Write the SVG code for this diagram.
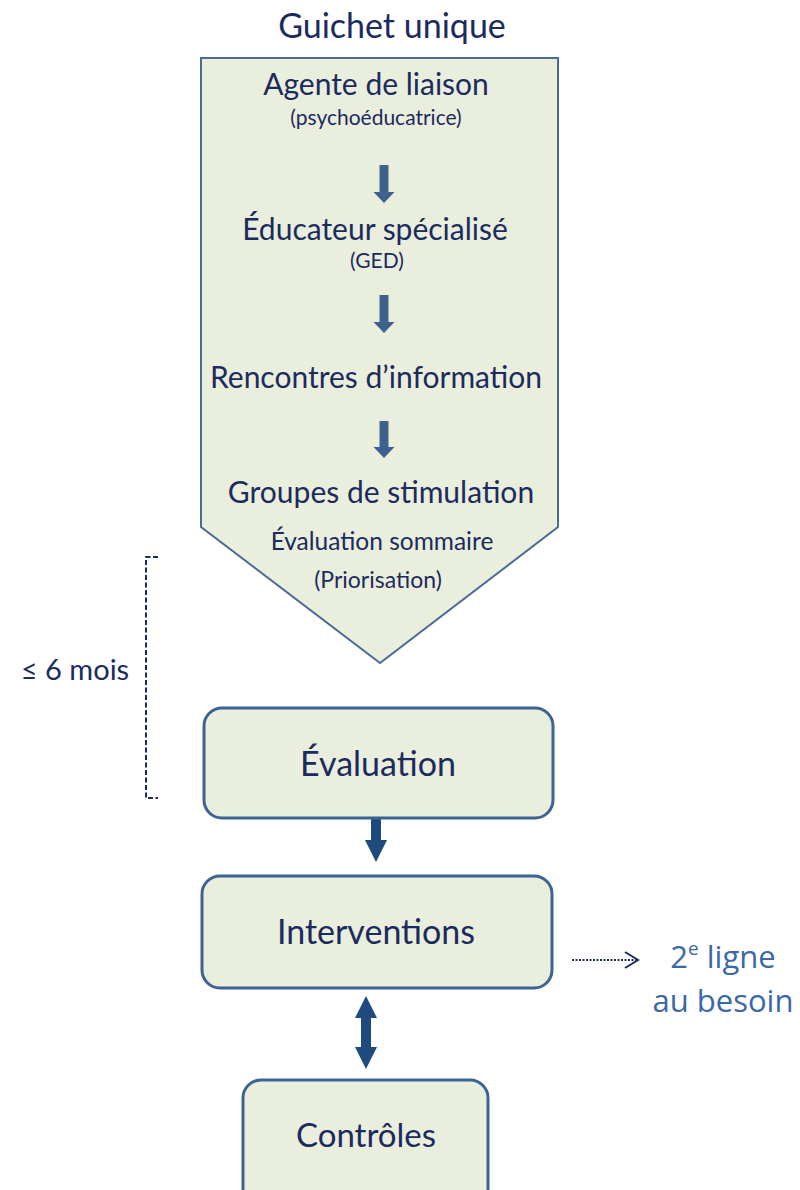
<svg xmlns="http://www.w3.org/2000/svg" width="800" height="1190" viewBox="0 0 800 1190">
<defs>
<style>
.t{font-family:Lato,"Open Sans","Liberation Sans",sans-serif;fill:#1c2b5e;text-anchor:middle}
.c{font-family:"Open Sans","Noto Sans","Liberation Sans",sans-serif;text-anchor:middle}
.box{fill:#eaeedd;stroke:#3d6393;stroke-width:3}
.arr{fill:#3f6190}
.arrd{fill:#1f4a7e}
</style>
</defs>
<rect width="800" height="1190" fill="#ffffff"/>
<g id="guichet">
<text class="t" x="392" y="38" font-size="34">Guichet unique</text>
<path d="M201 58 H558 V527 L380 663 L201 527 Z" fill="#eaeedd" stroke="#4a6b96" stroke-width="2"/>
<text class="t" x="376" y="95" font-size="30">Agente de liaison</text>
<text class="t" x="376" y="125" font-size="21">(psychoéducatrice)</text>
<text class="t" x="375" y="240" font-size="30">Éducateur spécialisé</text>
<text class="t" x="377" y="268" font-size="21">(GED)</text>
<text class="t" x="376" y="388" font-size="30">Rencontres d’information</text>
<text class="t" x="381" y="503" font-size="30">Groupes de stimulation</text>
<text class="t" x="382" y="550" font-size="24.5">Évaluation sommaire</text>
<text class="t" x="378" y="588" font-size="23">(Priorisation)</text>
</g>
<g id="connectors">
<path class="arr" d="M379.5 165 H388.5 V192 H394.5 L384 203 L373.5 192 H379.5 Z"/>
<path class="arr" d="M379.5 295 H388.5 V322 H394.5 L384 333 L373.5 322 H379.5 Z"/>
<path class="arr" d="M379.5 421 H388.5 V447 H394.5 L384 458 L373.5 447 H379.5 Z"/>
<path class="arrd" d="M371 818 H381 V840 H387 L376 862 L365 840 H371 Z"/>
<path class="arrd" d="M366 996 L377 1018 H371 V1047 H377 L366 1069 L355 1047 H361 V1018 H355 Z"/>
<line x1="572" y1="960" x2="636" y2="960" stroke="#1c2b5e" stroke-width="2" stroke-dasharray="2 1.5"/>
<path d="M625 952 L638 960 L625 968" fill="none" stroke="#1c2b5e" stroke-width="2"/>
<path d="M158 557 H146 V798 H158" fill="none" stroke="#1c2b5e" stroke-width="2" stroke-dasharray="5 2.5"/>
</g>
<g id="delai">
<text class="t" x="75" y="680" font-size="29">≤ 6 mois</text>
</g>
<g id="evaluation">
<rect class="box" x="204" y="708" width="349" height="110" rx="18"/>
<text class="t" x="378" y="776" font-size="34">Évaluation</text>
</g>
<g id="interventions">
<rect class="box" x="202" y="876" width="350" height="112" rx="18"/>
<text class="t" x="376" y="944" font-size="34">Interventions</text>
</g>
<g id="deuxieme-ligne">
<text class="c" x="723" y="968" font-size="31" fill="#3a68a8">2<tspan font-size="19" dy="-13">e</tspan><tspan dy="13"> ligne</tspan></text>
<text class="c" x="723" y="1012" font-size="31" fill="#3a68a8">au besoin</text>
</g>
<g id="controles">
<rect class="box" x="243" y="1080" width="245" height="130" rx="18"/>
<text class="t" x="366" y="1147" font-size="33">Contrôles</text>
</g>
</svg>
